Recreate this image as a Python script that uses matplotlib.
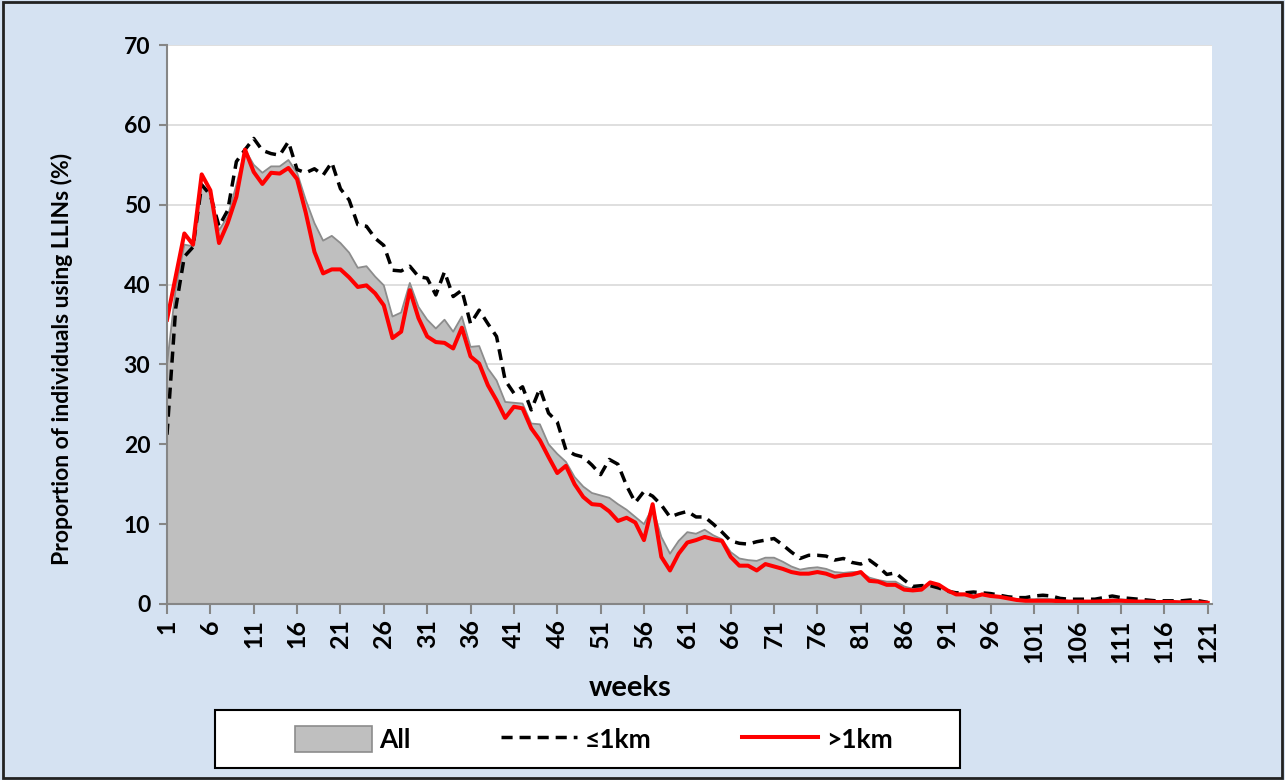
import matplotlib
matplotlib.use("Agg")
import matplotlib.pyplot as plt
from matplotlib.patches import Patch, Rectangle
from matplotlib.lines import Line2D
import numpy as np

plt.rcParams['font.family'] = ['Lato', 'DejaVu Sans']
plt.rcParams['font.weight'] = 'bold'

weeks = list(range(1, 122))

all_vals = [
    30.0, 39.5, 45.0, 44.8, 52.5, 51.5, 46.8, 48.5, 52.5, 56.9,
    55.0, 54.0, 54.8, 54.8, 55.6, 54.0, 50.6, 47.7, 45.5, 46.1,
    45.2, 44.0, 42.1, 42.3, 41.0, 39.9, 36.0, 36.5, 40.2, 37.2,
    35.6, 34.5, 35.6, 34.1, 36.0, 32.2, 32.3, 29.5, 28.0, 25.3,
    25.2, 25.1, 22.6, 22.5, 20.0, 18.8, 17.8, 15.9, 14.7, 13.9,
    13.6, 13.3, 12.5, 11.8, 10.9, 10.0, 12.1, 8.4, 6.3, 7.9,
    9.0, 8.8, 9.3, 8.6, 8.1, 6.5, 5.7, 5.5, 5.4, 5.8,
    5.8, 5.3, 4.7, 4.3, 4.5, 4.6, 4.4, 4.0, 3.9, 4.0,
    4.0, 3.3, 3.0, 2.8, 2.8, 2.2, 1.9, 2.0, 2.5, 2.2,
    1.6, 1.3, 1.3, 1.1, 1.3, 1.1, 1.0, 0.8, 0.6, 0.6,
    0.6, 0.7, 0.6, 0.5, 0.4, 0.4, 0.4, 0.4, 0.5, 0.6,
    0.6, 0.5, 0.4, 0.4, 0.3, 0.3, 0.3, 0.3, 0.35, 0.3,
    0.2,
]

near_vals = [
    21.2, 37.0, 43.5, 44.7, 52.5, 51.2, 47.3, 49.3, 55.4, 56.9,
    58.3, 56.8, 56.4, 56.2, 57.9, 54.4, 54.0, 54.5, 53.7, 55.3,
    52.0, 50.6, 47.5, 47.3, 45.8, 44.9, 41.8, 41.7, 42.3, 41.0,
    40.8, 38.7, 41.6, 38.5, 39.3, 35.1, 36.8, 35.1, 33.5, 28.0,
    26.4, 27.2, 24.3, 27.0, 23.9, 22.8, 19.3, 18.7, 18.4, 17.4,
    16.2, 18.1, 17.5, 14.8, 12.7, 14.1, 13.5, 12.4, 10.9, 11.3,
    11.6, 10.9, 10.9, 10.0, 9.0, 7.9, 7.6, 7.5, 7.8, 8.0,
    8.2, 7.4, 6.5, 5.7, 6.1, 6.1, 6.0, 5.5, 5.7, 5.2,
    5.0, 5.5, 4.7, 3.7, 3.9, 3.0, 2.2, 2.3, 2.3, 2.0,
    1.6, 1.4, 1.4, 1.5, 1.4, 1.3, 1.1, 0.9, 0.8, 0.8,
    1.0, 1.1, 1.0, 0.7, 0.6, 0.6, 0.6, 0.6, 0.8, 1.0,
    0.8, 0.7, 0.6, 0.5, 0.4, 0.4, 0.4, 0.4, 0.5, 0.4,
    0.2,
]

far_vals = [
    35.6, 41.0, 46.4, 45.0, 53.8, 51.8, 45.2, 47.7, 51.0, 56.9,
    54.1, 52.6, 54.0, 53.9, 54.6, 53.2, 49.0, 44.1, 41.4, 41.9,
    41.9, 40.9, 39.7, 39.9, 38.9, 37.4, 33.3, 34.1, 39.3, 35.8,
    33.5, 32.8, 32.7, 32.0, 34.6, 31.0, 30.1, 27.4, 25.5, 23.3,
    24.7, 24.5, 22.0, 20.5, 18.4, 16.4, 17.3, 15.0, 13.4, 12.5,
    12.4, 11.6, 10.4, 10.8, 10.2, 8.0, 12.5, 5.9, 4.2, 6.3,
    7.7, 8.0, 8.4, 8.1, 7.9, 5.9, 4.8, 4.8, 4.2, 5.0,
    4.7, 4.4, 4.0, 3.8, 3.8, 4.0, 3.8, 3.4, 3.6, 3.7,
    4.0, 2.9, 2.8, 2.4, 2.4, 1.8, 1.7, 1.8, 2.7, 2.4,
    1.7, 1.2, 1.2, 0.9, 1.2, 1.0, 0.9, 0.7, 0.5, 0.4,
    0.4, 0.4, 0.4, 0.35, 0.3, 0.3, 0.3, 0.3, 0.35, 0.4,
    0.4, 0.35, 0.3, 0.3, 0.25, 0.25, 0.25, 0.2, 0.25, 0.2,
    0.15,
]

xtick_labels = [str(w) for w in range(1, 122, 5)]
yticks = list(range(0, 71, 10))

bg = '#D5E2F2'
W, H = 1285, 780
fig = plt.figure(figsize=(12.85, 7.8), dpi=100, facecolor=bg)
ax = fig.add_axes([167/W, 1-604/H, (1212-167)/W, (604-45)/H])
ax.set_facecolor('white')

dash = (0, (3.2, 2.0))
ax.fill_between(weeks, all_vals, 0, facecolor='#BFBFBF', edgecolor='none', zorder=2)
ax.plot(weeks, all_vals, color='#8C8C8C', lw=1.3, zorder=3)
ax.plot(weeks, near_vals, color='black', lw=2.5, ls=dash, zorder=4)
ax.plot(weeks, far_vals, color='#FF0000', lw=2.9, zorder=5)

ax.set_xlim(1, 121.5)
ax.set_ylim(0, 70)
ax.set_yticks(yticks)
ax.set_yticklabels([str(v) for v in yticks], fontsize=16.5, fontweight='bold')
ax.set_xticks(list(range(1, 122, 5)))
ax.set_xticklabels(xtick_labels, rotation=90, fontsize=18, fontweight='bold')
ax.yaxis.grid(True, color='#D9D9D9', lw=1.2)
ax.set_axisbelow(True)
for s in ['top', 'right']:
    ax.spines[s].set_visible(False)
for s in ['left', 'bottom']:
    ax.spines[s].set_color('#868686')
    ax.spines[s].set_linewidth(1.5)
    ax.spines[s].set_zorder(6)
ax.tick_params(axis='x', direction='out', length=7, width=1.5, color='#868686', pad=4)
ax.tick_params(axis='y', direction='out', length=6, width=1.5, color='#868686', pad=6)

ax.set_ylabel('Proportion of individuals using LLINs (%)', fontsize=16.5, fontweight='bold')
ax.yaxis.set_label_coords((62-167)/(1212-167), (604-359)/(604-45))
ax.set_xlabel('weeks', fontsize=21, fontweight='bold')
ax.xaxis.set_label_coords((630-167)/(1212-167), -(688-604)/(604-45))
ax.xaxis.label.set_va('center')
ax.yaxis.label.set_va('center')

# legend box
fig.patches.append(Rectangle((215/W, 1-768/H), (960-215)/W, (768-710)/H,
                             transform=fig.transFigure, facecolor='white',
                             edgecolor='black', lw=1.5, zorder=1))
handles = [
    Patch(facecolor='#BFBFBF', edgecolor='#8C8C8C', lw=1.2),
    Line2D([0], [0], color='black', lw=2.5, ls=dash),
    Line2D([0], [0], color='#FF0000', lw=2.9),
]
leg = fig.legend(handles, ['All', '≤1km', '>1km'], loc='center',
                 bbox_to_anchor=(594/W, 1-739/H),
                 ncol=3, frameon=False, prop={'size': 19, 'weight': 'bold'},
                 handlelength=2.9, handleheight=1.1, handletextpad=0.3,
                 columnspacing=3.4)

fig.patches.append(Rectangle((0.002, 0.003), 0.996, 0.994, transform=fig.transFigure,
                             fill=False, edgecolor='#222222', lw=2))

fig.savefig('out.png', dpi=100, facecolor=bg)
